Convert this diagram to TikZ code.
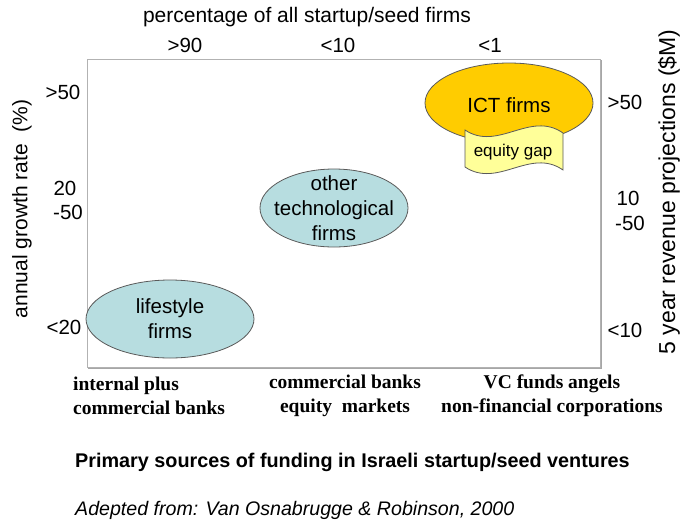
\documentclass[tikz,border=0pt]{standalone}
\usepackage{fontspec}
\setmainfont{Liberation Serif}
\setsansfont{Liberation Sans}
\usetikzlibrary{shapes.geometric}
\definecolor{teal1}{RGB}{183,221,224}
\definecolor{ictorange}{RGB}{255,204,0}
\definecolor{gapyellow}{RGB}{255,255,153}
\definecolor{edgegray}{RGB}{90,90,90}
\tikzset{
  lab/.style={font=\sffamily\fontsize{20.5}{22}\selectfont, inner sep=0pt},
  firm/.style={ellipse, draw=edgegray, line width=0.8pt, fill=teal1, inner sep=0pt},
  firmtext/.style={inner sep=0pt, align=center, font=\sffamily\fontsize{20.5}{25}\selectfont},
  src/.style={font=\rmfamily\bfseries\fontsize{19.5}{24}\selectfont, inner sep=0pt, align=center},
}
\begin{document}
\begin{tikzpicture}[x=1pt,y=-1pt]
\useasboundingbox (0,0) rectangle (684,525);
% frame with shadow
\draw[gray!70, line width=1.2pt] (601,60) -- (601,368) -- (88,368);
\draw[gray!60, line width=0.6pt] (87,59) rectangle (600,367);
% top axis
\node[lab, font=\sffamily\fontsize{21}{22}\selectfont] (toptitle) at (307,17) {percentage of all startup/seed firms};
\node[lab] (p90) at (185,45) {>90};
\node[lab] (p10) at (338,45) {<10};
\node[lab] (p1) at (490,45) {<1};
% left axis
\node[lab, font=\sffamily\fontsize{21}{22}\selectfont, rotate=90] (ltitle) at (22,209) {annual growth rate\ \ (\%)};
\node[lab] (l50) at (63,92) {>50};
\node[lab] (l20) at (65,188) {20};
\node[lab] (l2050) at (68,212) {-50};
\node[lab] (llt20) at (64,327) {<20};
% right axis
\node[lab, font=\sffamily\fontsize{23}{23}\selectfont, rotate=90] (rtitle) at (669,192) {5 year revenue projections (\$M)};
\node[lab] (r50) at (625,102) {>50};
\node[lab] (r10) at (628,198) {10};
\node[lab] (r1050) at (630,223) {-50};
\node[lab] (rlt10) at (625,330) {<10};
% ICT ellipse, then equity gap flag over its lower part
\node[firm, fill=ictorange, minimum width=168pt, minimum height=80pt] (ict) at (509,103) {};
\draw[edgegray, line width=0.8pt, fill=gapyellow]
  (465,130) .. controls (498,152) and (530,110) .. (563,133)
  -- (563,170) .. controls (530,147) and (498,189) .. (465,167) -- cycle;
\node[lab, font=\sffamily\fontsize{17}{18}\selectfont] (gap) at (513,152) {equity gap};
\node[firmtext] (ictlabel) at (509,105) {ICT firms};
% other and lifestyle ellipses
\node[firm, minimum width=148pt, minimum height=78pt] (other) at (334,208) {};
\node[firmtext] (otherlabel) at (other.center) {other\\technological\\firms};
\node[firm, minimum width=168pt, minimum height=78pt] (life) at (170,319) {};
\node[firmtext] (lifelabel) at (life.center) {lifestyle\\firms};
% bottom sources
\node[src, anchor=west, align=left] (s1) at (73,396) {internal plus\\commercial banks};
\node[src] (s2) at (345,396) {commercial banks\\equity\ \ markets};
\node[src] (s3) at (552,396) {VC funds angels\\non-financial corporations};
\node[lab, font=\sffamily\bfseries\fontsize{19.8}{21}\selectfont, anchor=west] (primary) at (75,462) {Primary sources of funding in Israeli startup/seed ventures};
\node[lab, font=\sffamily\itshape\fontsize{19.6}{21}\selectfont, anchor=west] (adapted) at (75,510) {Adepted from: Van Osnabrugge \& Robinson, 2000};
\end{tikzpicture}
\end{document}
